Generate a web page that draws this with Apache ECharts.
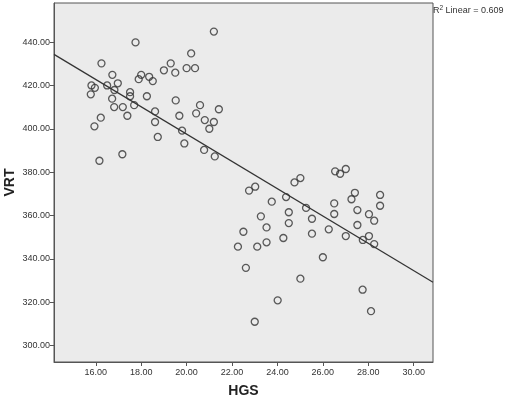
<!DOCTYPE html>
<html>
<head>
<meta charset="utf-8">
<script src="https://cdn.jsdelivr.net/npm/echarts@6/dist/echarts.min.js"></script>
<style>
  html, body { margin: 0; padding: 0; background: #fff; }
  #main { width: 505px; height: 398px; }
</style>
</head>
<body>
<div id="main"></div>
<script>
// HGS / VRT scatter
var hgs = [
  21.2, 17.75, 16.25, 20.2, 19.3, 19.0, 19.5, 20.0, 20.37, 16.73,
  18.0, 18.35, 18.51, 17.89, 16.97, 15.81, 15.96, 16.5, 16.82, 15.78,
  17.51, 17.51, 16.72, 18.25, 19.52, 17.69, 16.81, 17.19, 20.59, 21.42,
  18.61, 20.42, 17.39, 19.68, 16.22, 20.8, 21.2, 18.61, 21.0, 15.94,
  19.8, 18.73, 19.9, 20.77, 17.17, 21.24, 16.16,
  22.75, 23.02, 24.75, 25.01, 23.75, 24.38, 25.26, 24.5, 23.27, 25.52,
  24.5, 23.52, 22.5, 25.52, 24.26, 23.52, 22.26, 23.11,
  26.54, 26.76, 27.01, 27.41, 27.26, 28.52, 28.52, 26.5, 26.5, 27.52,
  28.03, 28.26, 27.52, 26.26, 27.01, 28.03, 27.76, 28.26, 26.0, 22.61,
  25.01, 27.75, 24.01, 28.12, 23.0
];
var vrt = [
  445, 440, 430.3, 434.9, 430.3, 427.1, 426, 428.1, 428.1, 425,
  425, 424.1, 422.1, 423, 421.1, 420.1, 419, 420.1, 418, 416,
  417, 415.1, 414, 415.1, 413.2, 411, 410.1, 410.1, 411, 409.1,
  408.1, 407.2, 406.1, 406.1, 405.2, 404.1, 403.2, 403.2, 400.1, 401.2,
  399.2, 396.3, 393.3, 390.3, 388.3, 387.3, 385.3,
  371.5, 373.3, 375.3, 377.3, 366.4, 368.5, 363.5, 361.5, 359.6, 358.5,
  356.5, 354.5, 352.5, 351.6, 349.6, 347.6, 345.6, 345.6,
  380.4, 379.3, 381.5, 370.5, 367.5, 369.5, 364.5, 365.6, 360.7, 362.5,
  360.6, 357.6, 355.6, 353.6, 350.5, 350.5, 348.7, 346.8, 340.7, 335.8,
  330.8, 325.7, 320.8, 315.8, 310.9
];
// fit line ends (at the plot edges)
var fitX = [14.16, 30.85];
var fitY = [434.46, 329.15];
var xTicks = [16, 18, 20, 22, 24, 26, 28, 30];
var yTicks = [300, 320, 340, 360, 380, 400, 420, 440];

var points = hgs.map(function (x, i) { return [x, vrt[i]]; });
var fitLine = fitX.map(function (x, i) { return [x, fitY[i]]; });

var chart = echarts.init(document.getElementById('main'));
var labelStyle = {
  color: '#333',
  fontFamily: 'Liberation Sans',
  fontSize: 9,
  formatter: function (v) { return v.toFixed(2); }
};
option = {
  backgroundColor: '#fff',
  animation: false,
  grid: {
    left: 54, top: 3, right: 72, bottom: 36,
    outerBoundsMode: 'none',
    containLabel: false,
    show: true,
    backgroundColor: '#ebebeb',
    borderColor: '#555',
    borderWidth: 1
  },
  xAxis: {
    type: 'value',
    min: 14.16,
    max: 30.85,
    name: 'HGS',
    nameLocation: 'middle',
    nameGap: 22,
    nameMoveOverlap: false,
    nameTextStyle: { fontFamily: 'Liberation Sans', fontSize: 14, fontWeight: 'bold', color: '#222' },
    axisLine: { lineStyle: { color: '#555' } },
    axisTick: { show: true, length: 4, customValues: xTicks, lineStyle: { color: '#555' } },
    axisLabel: Object.assign({ customValues: xTicks, margin: 6 }, labelStyle),
    splitLine: { show: false }
  },
  yAxis: {
    type: 'value',
    min: 292.3,
    max: 458.2,
    name: 'VRT',
    nameLocation: 'middle',
    nameGap: 37,
    nameMoveOverlap: false,
    nameRotate: 90,
    nameTextStyle: { fontFamily: 'Liberation Sans', fontSize: 14, fontWeight: 'bold', color: '#222' },
    axisLine: { show: true, lineStyle: { color: '#555' } },
    axisTick: { show: true, length: 4, customValues: yTicks, lineStyle: { color: '#555' } },
    axisLabel: Object.assign({ customValues: yTicks, margin: 4 }, labelStyle),
    splitLine: { show: false }
  },
  graphic: [{
    type: 'text',
    left: 433,
    top: 5,
    style: {
      text: '{r|R}{s|2}{t| Linear = 0.609}',
      rich: {
        r: { fontFamily: 'Liberation Sans', fontSize: 9, fill: '#333' },
        s: { fontFamily: 'Liberation Sans', fontSize: 6.5, fill: '#333', verticalAlign: 'top', padding: [0, 0, 5, 0] },
        t: { fontFamily: 'Liberation Sans', fontSize: 9, fill: '#333' }
      }
    }
  }],
  series: [
    {
      name: 'VRT',
      type: 'scatter',
      data: points,
      symbol: 'circle',
      symbolSize: 7,
      itemStyle: { color: 'transparent', borderColor: '#333', borderWidth: 1.3 }
    },
    {
      name: 'fit',
      type: 'line',
      data: fitLine,
      symbol: 'none',
      lineStyle: { color: '#333', width: 1.2 }
    }
  ]
};
chart.setOption(option);
</script>
</body>
</html>
